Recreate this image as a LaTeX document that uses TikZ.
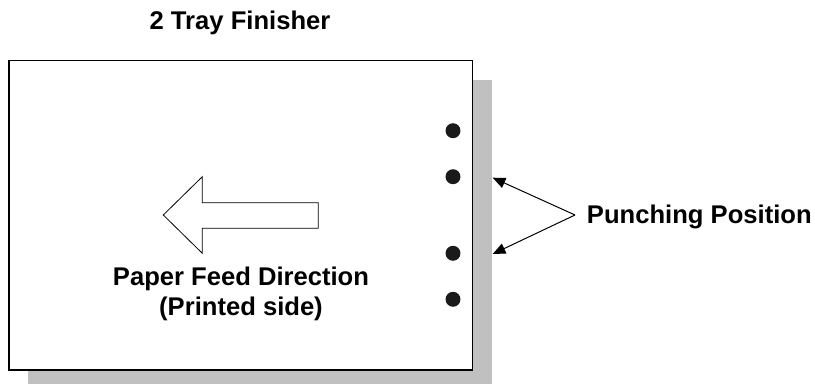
\documentclass[tikz,border=0pt]{standalone}
\usepackage{fontspec}
\setmainfont{Liberation Sans}
\usepackage{xcolor}
\usepackage{tikz}
\usetikzlibrary{arrows.meta,positioning,calc}
\definecolor{Shade}{RGB}{192,192,192}
\definecolor{Hole}{RGB}{26,26,26}
\tikzset{
  lbl/.style={font=\bfseries\fontsize{19.2}{22.5}\selectfont, inner sep=0pt},
  hole/.style={circle, fill=Hole, minimum size=11.2pt, inner sep=0pt},
}

\begin{document}
\begin{tikzpicture}[x=0.75pt, y=-0.75pt]
    \useasboundingbox (0,0) rectangle (815,385);
    % sheet and its shadow
    \fill[Shade] (28,80) rectangle (491.7,384);
    \draw[fill=white, line width=0.9pt] (9,60.7) rectangle (472.7,370);
    \node[lbl, anchor=base] (title) at (240,29.3) {2 Tray Finisher};
    % punch holes
    \foreach \i/\y in {1/130.7,2/176.7,3/253.3,4/299.3} {
      \node[hole] (h\i) at (453,\y) {};
    }
    % feed arrow
    \draw[line width=0.6pt, fill=white] (163.3,215) -- (202.3,176.7) -- (202.3,202.7)
      -- (318.3,202.7) -- (318.3,228.3) -- (202.3,228.3) -- (202.3,253.3) -- cycle;
    \node[lbl, anchor=base] (feed) at (241,285) {Paper Feed Direction};
    \node[lbl, anchor=base] (side) at (241,315) {(Printed side)};
    % punching label
    \node[lbl, anchor=base west] (punch) at (586.7,223.5) {Punching Position};
    \coordinate (fork) at (575,215);
    \coordinate (t2) at (492.7,177.7);
    \coordinate (t3) at (492.7,254);
    \draw[-{Triangle[length=9.5pt,width=8pt]}, line width=0.75pt] (fork) -- (t2);
    \draw[-{Triangle[length=9.5pt,width=8pt]}, line width=0.75pt] (fork) -- (t3);
  \end{tikzpicture}
\end{document}
